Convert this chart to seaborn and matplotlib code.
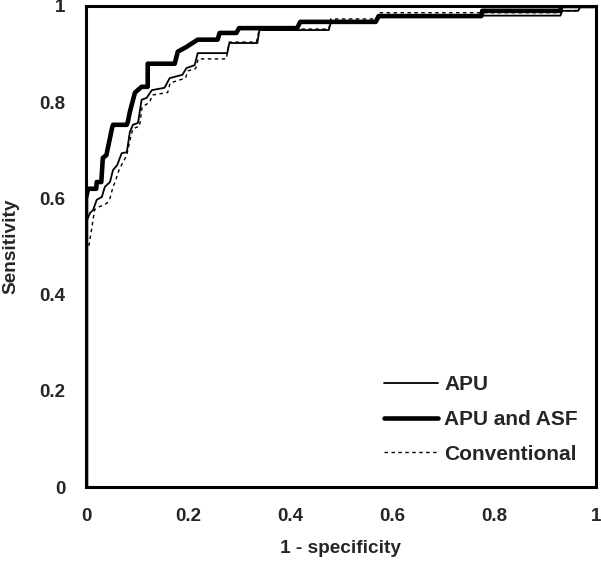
import numpy as np
import pandas as pd
import matplotlib
matplotlib.use("Agg")
import matplotlib.pyplot as plt
import seaborn as sns

# ROC vertices (1 - specificity, sensitivity)
apu_fpr = [0, 0, 0.008, 0.014, 0.021, 0.031, 0.037, 0.047, 0.053, 0.061, 0.070, 0.080,
           0.086, 0.092, 0.102, 0.109, 0.119, 0.129, 0.154, 0.164, 0.189, 0.197, 0.213,
           0.219, 0.277, 0.281, 0.336, 0.340, 0.476, 0.480, 0.568, 0.574, 0.930, 0.934,
           0.965, 0.970, 1.0]
apu_tpr = [0, 0.55, 0.570, 0.576, 0.597, 0.603, 0.624, 0.634, 0.659, 0.669, 0.694, 0.696,
           0.738, 0.753, 0.757, 0.805, 0.809, 0.825, 0.830, 0.850, 0.857, 0.871, 0.877,
           0.902, 0.902, 0.923, 0.923, 0.950, 0.950, 0.965, 0.965, 0.980, 0.980, 0.990,
           0.990, 1.0, 1.0]

asf_fpr = [0, 0, 0.004, 0.020, 0.021, 0.030, 0.033, 0.040, 0.051, 0.053, 0.080, 0.082,
           0.086, 0.096, 0.109, 0.121, 0.121, 0.174, 0.180, 0.197, 0.219, 0.258, 0.262,
           0.295, 0.300, 0.414, 0.420, 0.568, 0.574, 0.775, 0.777, 0.930, 0.932, 1.0]
asf_tpr = [0, 0.60, 0.620, 0.620, 0.634, 0.634, 0.684, 0.690, 0.746, 0.753, 0.753, 0.759,
           0.780, 0.820, 0.832, 0.832, 0.880, 0.880, 0.905, 0.915, 0.930, 0.930, 0.944,
           0.944, 0.954, 0.954, 0.967, 0.967, 0.979, 0.979, 0.990, 0.990, 1.0, 1.0]

conv_fpr = [0, 0, 0.006, 0.017, 0.027, 0.041, 0.047, 0.053, 0.057, 0.065, 0.075, 0.080,
            0.086, 0.092, 0.105, 0.110, 0.125, 0.130, 0.160, 0.165, 0.195, 0.200, 0.215,
            0.220, 0.275, 0.281, 0.334, 0.340, 0.476, 0.480, 0.568, 0.574, 0.930, 0.934,
            0.960, 0.965, 1.0]
conv_tpr = [0, 0.50, 0.503, 0.577, 0.583, 0.590, 0.600, 0.624, 0.634, 0.660, 0.680, 0.690,
            0.720, 0.745, 0.750, 0.790, 0.800, 0.815, 0.820, 0.840, 0.850, 0.865, 0.870,
            0.890, 0.890, 0.925, 0.925, 0.952, 0.952, 0.973, 0.973, 0.986, 0.986, 0.990,
            0.990, 1.0, 1.0]

series_names = ["APU", "APU and ASF", "Conventional"]
x_ticks = [0, 0.2, 0.4, 0.6, 0.8, 1]
x_tick_labels = ["0", "0.2", "0.4", "0.6", "0.8", "1"]
y_ticks = [0, 0.2, 0.4, 0.6, 0.8, 1]
y_tick_labels = ["0", "0.2", "0.4", "0.6", "0.8", "1"]

frames = []
for name, fx, fy in zip(series_names, [apu_fpr, asf_fpr, conv_fpr], [apu_tpr, asf_tpr, conv_tpr]):
    frames.append(pd.DataFrame({"fpr": fx, "tpr": fy, "model": name, "order": np.arange(len(fx))}))
df = pd.concat(frames, ignore_index=True)

sns.set_style("white")
plt.rcParams["font.family"] = ["Liberation Sans", "DejaVu Sans"]
plt.rcParams["font.weight"] = "bold"

fig = plt.figure(figsize=(6.01, 5.66), dpi=100)
ax = fig.add_axes([86 / 601, (566 - 487) / 566, 510 / 601, 481 / 566])

styles = {
    "APU": dict(lw=1.3, ls="-"),
    "APU and ASF": dict(lw=3.3, ls="-"),
    "Conventional": dict(lw=1.0, ls=(0, (2.5, 2.5))),
}
for name in series_names:
    sub = df[df["model"] == name]
    sns.lineplot(data=sub, x="fpr", y="tpr", sort=False, estimator=None, ax=ax,
                 color="black", linewidth=styles[name]["lw"], linestyle=styles[name]["ls"],
                 label=name)

ax.set_xlim(0, 1)
ax.set_ylim(0, 1)
ax.set_xticks(x_ticks)
ax.set_xticklabels(x_tick_labels)
ax.set_yticks(y_ticks)
ax.set_yticklabels(y_tick_labels)
ax.tick_params(axis="both", length=0, labelsize=13.5)
ax.tick_params(axis="x", pad=15)
ax.tick_params(axis="y", pad=15)
for lab in ax.get_xticklabels() + ax.get_yticklabels():
    lab.set_fontweight("bold")
for sp in ax.spines.values():
    sp.set_visible(True)
    sp.set_linewidth(2.2)
    sp.set_color("black")

ax.set_xlabel("1 - specificity", fontsize=13.7, fontweight="bold", labelpad=11)
ax.set_ylabel("Sensitivity", fontsize=13.7, fontweight="bold", labelpad=14)

leg = ax.legend(loc="upper left", bbox_to_anchor=(0.584, 0.232), frameon=False,
                fontsize=15, handlelength=2.6, handletextpad=0.3, labelspacing=0.75,
                borderpad=0, borderaxespad=0)
for t in leg.get_texts():
    t.set_fontweight("bold")

fig.savefig("out.png", dpi=100)
